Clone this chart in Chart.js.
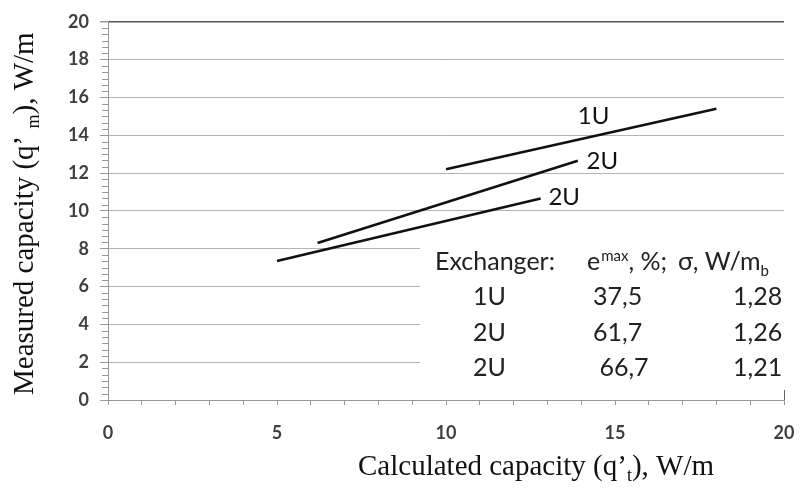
<!DOCTYPE html>
<html>
<head>
<meta charset="utf-8">
<script src="https://cdn.jsdelivr.net/npm/chart.js@4/dist/chart.umd.min.js"></script>
<style>
  html, body { margin: 0; padding: 0; background: #fff; }
  #wrap { width: 806px; height: 489px; position: relative; }
</style>
</head>
<body>
<div id="wrap"><canvas id="myChart"></canvas></div>
<script>
// series
const x1U = [10, 18];
const y1U = [12.2, 15.4];
const x2Ua = [6.2, 13.9];
const y2Ua = [8.3, 12.65];
const x2Ub = [5.0, 12.8];
const y2Ub = [7.35, 10.65];

const seriesNames = ['1U', '2U', '2U'];

// table
const tableNames = ['1U', '2U', '2U'];
const eMax = ['37,5', '61,7', ' 66,7'];
const sigma = ['1,28', '1,26', '1,21'];

// where the line names sit (data units)
const lineLabelX = [13.9, 14.16, 13.03];
const lineLabelY = [14.61, 12.23, 10.29];

const toPoints = (xs, ys) => xs.map((x, i) => ({ x: x, y: ys[i] }));

const lineStyle = {
    showLine: true,
    pointRadius: 0,
    borderColor: '#111',
    borderWidth: 2.6,
    fill: false
};

const annotations = {
    id: 'annotations',
    afterDraw(chart) {
        const ctx = chart.ctx;
        const xs = chart.scales.x;
        const ys = chart.scales.y;
        const area = chart.chartArea;
        ctx.save();

        // minor ticks on the y axis
        ctx.strokeStyle = '#999';
        ctx.lineWidth = 1;
        for (let i = 0; i <= 60; i++) {
            if (i % 6 === 0) continue;
            const py = Math.round(ys.getPixelForValue(i / 3)) + 0.5;
            ctx.beginPath();
            ctx.moveTo(area.left - 6, py);
            ctx.lineTo(area.left, py);
            ctx.stroke();
        }
        // end tick at x = 20
        const pxEnd = Math.round(xs.getPixelForValue(20)) + 0.5;
        ctx.strokeStyle = '#666';
        ctx.beginPath();
        ctx.moveTo(pxEnd, area.bottom - 10);
        ctx.lineTo(pxEnd, area.bottom);
        ctx.stroke();

        // line names
        ctx.fillStyle = '#111';
        ctx.font = '24px Lato';
        ctx.textBaseline = 'alphabetic';
        seriesNames.forEach((name, i) => {
            ctx.fillText(name, xs.getPixelForValue(lineLabelX[i]), ys.getPixelForValue(lineLabelY[i]));
        });

        // table box
        ctx.fillStyle = '#fff';
        ctx.fillRect(420, 236, 386, 147);
        ctx.fillStyle = '#222';
        ctx.font = '25px Lato';
        ctx.fillText('Exchanger:', 435, 270);
        ctx.fillText('e', 587, 270);
        let w = ctx.measureText('e').width;
        ctx.font = '15px Lato';
        ctx.fillText('max', 587 + w + 1, 261);
        let w2 = ctx.measureText('max').width;
        ctx.font = '25px Lato';
        ctx.fillText(', %;', 587 + w + w2 + 1, 270);
        ctx.fillText('σ, W/m', 678, 270);
        let w3 = ctx.measureText('σ, W/m').width;
        ctx.font = '15px Lato';
        ctx.fillText('b', 678 + w3, 276);

        ctx.font = '25px Lato';
        const rowBase = [305, 341, 376];
        tableNames.forEach((n, i) => {
            ctx.fillText(n, 473, rowBase[i]);
            ctx.fillText(eMax[i], 593, rowBase[i]);
            ctx.fillText(sigma[i], 733, rowBase[i]);
        });

        // axis titles (Times-like, with subscripts)
        ctx.fillStyle = '#111';
        const serif = '"Liberation Serif", "Times New Roman", serif';
        const drawSub = (parts, x, y) => {
            let cx = x;
            parts.forEach(p => {
                ctx.font = (p.sub ? '18px ' : '29px ') + serif;
                ctx.fillText(p.t, cx, y + (p.sub ? 6 : 0));
                cx += ctx.measureText(p.t).width;
            });
        };
        drawSub([{ t: 'Calculated capacity (q’' }, { t: 't', sub: true }, { t: '), W/m' }], 358, 475);

        ctx.translate(33, 395);
        ctx.rotate(-Math.PI / 2);
        drawSub([{ t: 'Measured capacity (q’ ' }, { t: 'm', sub: true }, { t: '), W/m' }], 0, 0);

        ctx.restore();
    }
};

const tickFont = { family: 'Lato', size: 18, weight: 'bold' };

new Chart(document.getElementById('myChart'), {
    type: 'scatter',
    data: {
        datasets: [
            Object.assign({ label: seriesNames[0], data: toPoints(x1U, y1U) }, lineStyle),
            Object.assign({ label: seriesNames[1], data: toPoints(x2Ua, y2Ua) }, lineStyle),
            Object.assign({ label: seriesNames[2], data: toPoints(x2Ub, y2Ub) }, lineStyle)
        ]
    },
    options: {
        responsive: true,
        maintainAspectRatio: false,
        animation: false,
        layout: { padding: { left: 0, right: 22, top: 19, bottom: 0 } },
        plugins: {
            legend: { display: false },
            tooltip: { enabled: false }
        },
        scales: {
            x: {
                type: 'linear',
                min: 0,
                max: 20,
                afterFit: s => { s.height = 89; s.paddingRight = 10; s.paddingLeft = 10; },
                border: { color: '#999', width: 1 },
                grid: {
                    drawOnChartArea: false,
                    tickLength: 5,
                    tickColor: '#999'
                },
                ticks: {
                    stepSize: 1,
                    autoSkip: false,
                    maxRotation: 0,
                    padding: 17,
                    color: '#404040',
                    font: tickFont,
                    callback: v => (v % 5 === 0 ? String(v) : '')
                }
            },
            y: {
                min: 0,
                max: 20,
                afterFit: s => { s.width = 108; },
                border: { color: '#999', width: 1 },
                grid: {
                    color: c => (c.tick && c.tick.value === 20 ? '#555' : '#b4b4b4'),
                    lineWidth: c => (c.tick && c.tick.value === 20 ? 1.5 : 1),
                    tickLength: 8,
                    tickColor: '#999'
                },
                ticks: {
                    stepSize: 2,
                    padding: 11,
                    color: '#404040',
                    font: tickFont
                }
            }
        }
    },
    plugins: [annotations]
});
</script>
</body>
</html>
